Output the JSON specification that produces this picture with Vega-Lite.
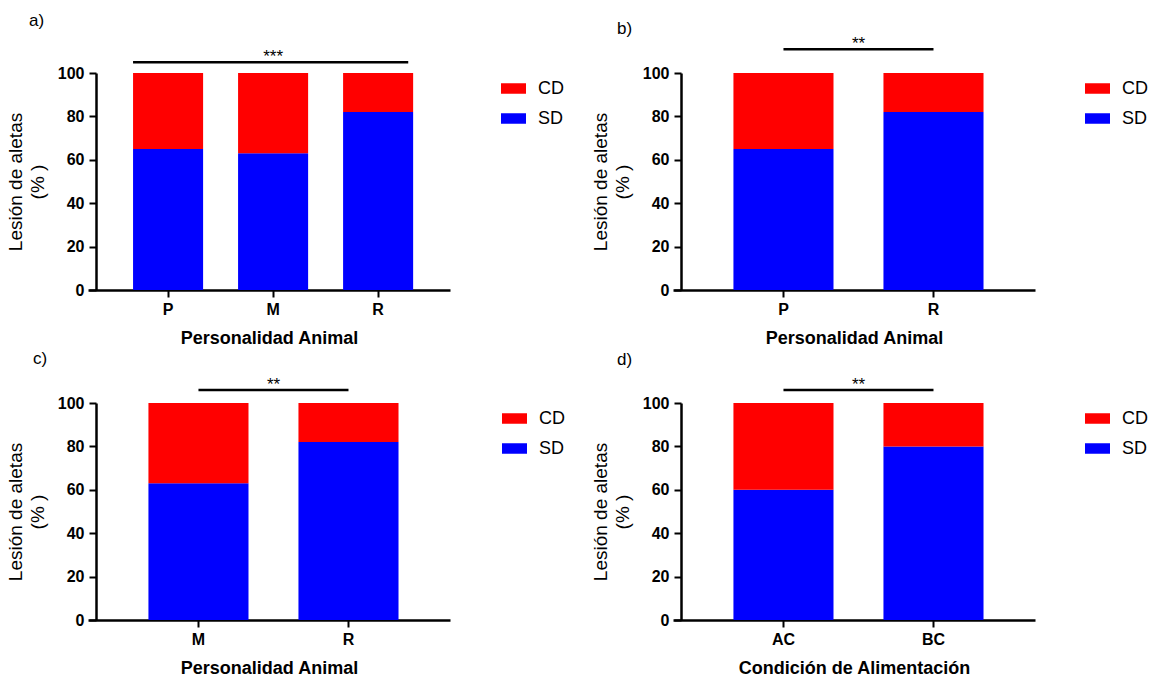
{
  "$schema": "https://vega.github.io/schema/vega-lite/v6.json",
  "background": "white",
  "padding": {"left": 6, "top": 12, "right": 0, "bottom": 0},
  "config": {
    "font": "Liberation Sans",
    "view": {"stroke": null},
    "axis": {
      "domainColor": "black", "domainWidth": 2.5, "tickColor": "black", "tickWidth": 2, "tickSize": 7,
      "labelFont": "Liberation Sans", "labelFontWeight": "bold", "labelFontSize": 16, "labelColor": "black",
      "titleFont": "Liberation Sans", "titleColor": "black", "titleFontSize": 18, "grid": false, "zindex": 1
    },
    "axisX": {"labelPadding": 4, "titleFontWeight": "bold", "titlePadding": 12, "labelAngle": 0},
    "axisY": {"labelPadding": 5, "titleFontWeight": "normal", "titleFontSize": 19, "titlePadding": 10, "offset": -8, "titleLineHeight": 22},
    "legend": {
      "orient": "none", "title": null, "symbolType": "M-1,-0.42H1V0.42H-1Z", "symbolSize": 625,
      "symbolStrokeWidth": 0, "labelFont": "Liberation Sans", "labelFontSize": 18, "labelColor": "black",
      "labelOffset": 12, "rowPadding": 8, "padding": 0
    },
    "title": {"anchor": "start", "frame": "group", "fontSize": 17, "fontWeight": "normal", "color": "black", "font": "Liberation Sans"}
  },
  "datasets": {
    "a": [
      {"cat": "P", "group": "SD", "value": 65}, {"cat": "P", "group": "CD", "value": 35},
      {"cat": "M", "group": "SD", "value": 63}, {"cat": "M", "group": "CD", "value": 37},
      {"cat": "R", "group": "SD", "value": 82}, {"cat": "R", "group": "CD", "value": 18}
    ],
    "a_sig": [{"from": "P", "to": "R", "mid": "M", "y": 105, "label": "***"}],
    "b": [
      {"cat": "P", "group": "SD", "value": 65}, {"cat": "P", "group": "CD", "value": 35},
      {"cat": "R", "group": "SD", "value": 82}, {"cat": "R", "group": "CD", "value": 18}
    ],
    "b_sig": [{"from": "P", "to": "R", "mid": "P", "y": 111, "label": "**"}],
    "c": [
      {"cat": "M", "group": "SD", "value": 63}, {"cat": "M", "group": "CD", "value": 37},
      {"cat": "R", "group": "SD", "value": 82}, {"cat": "R", "group": "CD", "value": 18}
    ],
    "c_sig": [{"from": "M", "to": "R", "mid": "M", "y": 106, "label": "**"}],
    "d": [
      {"cat": "AC", "group": "SD", "value": 60}, {"cat": "AC", "group": "CD", "value": 40},
      {"cat": "BC", "group": "SD", "value": 80}, {"cat": "BC", "group": "CD", "value": 20}
    ],
    "d_sig": [{"from": "AC", "to": "BC", "mid": "AC", "y": 106, "label": "**"}]
  },
  "columns": 2,
  "bounds": "flush",
  "spacing": {"row": 113, "column": 223},
  "resolve": {"scale": {"color": "independent"}, "legend": {"color": "independent"}},
  "concat": [
    {
      "width": 362, "height": 217,
      "title": {"text": "a)", "dx": -59, "offset": 18},
      "layer": [
        {
          "data": {"name": "a"},
          "mark": {"type": "bar"},
          "encoding": {
            "x": {"field": "cat", "type": "nominal", "title": "Personalidad Animal", "scale": {"domain": ["P", "M", "R"], "paddingInner": 0.333, "paddingOuter": 0.39, "align": 0.55}},
            "y": {"field": "value", "type": "quantitative", "stack": "zero", "title": ["Lesión de aletas", "(% )"], "scale": {"domain": [0, 100], "nice": false}, "axis": {"values": [0, 20, 40, 60, 80, 100]}},
            "color": {"field": "group", "type": "nominal", "scale": {"domain": ["CD", "SD"], "range": ["#ff0000", "#0000ff"]}, "legend": {"legendX": 413, "legendY": 3}},
            "order": {"field": "group", "sort": "descending"}
          }
        },
        {
          "data": {"name": "a_sig"},
          "mark": {"type": "rule", "strokeWidth": 2.5, "color": "black"},
          "encoding": {
            "x": {"field": "from", "type": "nominal", "bandPosition": 0, "title": "Personalidad Animal", "scale": {"domain": ["P", "M", "R"], "paddingInner": 0.333, "paddingOuter": 0.39, "align": 0.55}},
            "x2": {"field": "to", "bandPosition": 0.93},
            "y": {"field": "y", "type": "quantitative", "title": ["Lesión de aletas", "(% )"], "scale": {"domain": [0, 100], "nice": false}}
          }
        },
        {
          "data": {"name": "a_sig"},
          "mark": {"type": "text", "fontSize": 17, "baseline": "alphabetic", "color": "black"},
          "encoding": {
            "x": {"field": "mid", "type": "nominal", "bandPosition": 0.5, "title": "Personalidad Animal", "scale": {"domain": ["P", "M", "R"], "paddingInner": 0.333, "paddingOuter": 0.39, "align": 0.55}},
            "y": {"field": "y", "type": "quantitative", "title": ["Lesión de aletas", "(% )"], "scale": {"domain": [0, 100], "nice": false}},
            "text": {"field": "label"}
          }
        }
      ]
    },
    {
      "width": 362, "height": 217,
      "title": {"text": "b)", "dx": -56, "offset": -3},
      "layer": [
        {
          "data": {"name": "b"},
          "mark": {"type": "bar"},
          "encoding": {
            "x": {"field": "cat", "type": "nominal", "title": "Personalidad Animal", "scale": {"domain": ["P", "R"], "paddingInner": 0.333, "paddingOuter": 0.373, "align": 0.54}},
            "y": {"field": "value", "type": "quantitative", "stack": "zero", "title": ["Lesión de aletas", "(% )"], "scale": {"domain": [0, 100], "nice": false}, "axis": {"values": [0, 20, 40, 60, 80, 100]}},
            "color": {"field": "group", "type": "nominal", "scale": {"domain": ["CD", "SD"], "range": ["#ff0000", "#0000ff"]}, "legend": {"legendX": 412, "legendY": 3}},
            "order": {"field": "group", "sort": "descending"}
          }
        },
        {
          "data": {"name": "b_sig"},
          "mark": {"type": "rule", "strokeWidth": 2.5, "color": "black"},
          "encoding": {
            "x": {"field": "from", "type": "nominal", "bandPosition": 0.5, "title": "Personalidad Animal", "scale": {"domain": ["P", "R"], "paddingInner": 0.333, "paddingOuter": 0.373, "align": 0.54}},
            "x2": {"field": "to", "bandPosition": 0.5},
            "y": {"field": "y", "type": "quantitative", "title": ["Lesión de aletas", "(% )"], "scale": {"domain": [0, 100], "nice": false}}
          }
        },
        {
          "data": {"name": "b_sig"},
          "mark": {"type": "text", "fontSize": 17, "baseline": "alphabetic", "color": "black"},
          "encoding": {
            "x": {"field": "mid", "type": "nominal", "bandPosition": 1.25, "title": "Personalidad Animal", "scale": {"domain": ["P", "R"], "paddingInner": 0.333, "paddingOuter": 0.373, "align": 0.54}},
            "y": {"field": "y", "type": "quantitative", "title": ["Lesión de aletas", "(% )"], "scale": {"domain": [0, 100], "nice": false}},
            "text": {"field": "label"}
          }
        }
      ]
    },
    {
      "width": 362, "height": 217,
      "title": {"text": "c)", "dx": -55, "offset": 8},
      "layer": [
        {
          "data": {"name": "c"},
          "mark": {"type": "bar"},
          "encoding": {
            "x": {"field": "cat", "type": "nominal", "title": "Personalidad Animal", "scale": {"domain": ["M", "R"], "paddingInner": 0.333, "paddingOuter": 0.373, "align": 0.54}},
            "y": {"field": "value", "type": "quantitative", "stack": "zero", "title": ["Lesión de aletas", "(% )"], "scale": {"domain": [0, 100], "nice": false}, "axis": {"values": [0, 20, 40, 60, 80, 100]}},
            "color": {"field": "group", "type": "nominal", "scale": {"domain": ["CD", "SD"], "range": ["#ff0000", "#0000ff"]}, "legend": {"legendX": 414, "legendY": 3}},
            "order": {"field": "group", "sort": "descending"}
          }
        },
        {
          "data": {"name": "c_sig"},
          "mark": {"type": "rule", "strokeWidth": 2.5, "color": "black"},
          "encoding": {
            "x": {"field": "from", "type": "nominal", "bandPosition": 0.5, "title": "Personalidad Animal", "scale": {"domain": ["M", "R"], "paddingInner": 0.333, "paddingOuter": 0.373, "align": 0.54}},
            "x2": {"field": "to", "bandPosition": 0.5},
            "y": {"field": "y", "type": "quantitative", "title": ["Lesión de aletas", "(% )"], "scale": {"domain": [0, 100], "nice": false}}
          }
        },
        {
          "data": {"name": "c_sig"},
          "mark": {"type": "text", "fontSize": 17, "baseline": "alphabetic", "color": "black"},
          "encoding": {
            "x": {"field": "mid", "type": "nominal", "bandPosition": 1.25, "title": "Personalidad Animal", "scale": {"domain": ["M", "R"], "paddingInner": 0.333, "paddingOuter": 0.373, "align": 0.54}},
            "y": {"field": "y", "type": "quantitative", "title": ["Lesión de aletas", "(% )"], "scale": {"domain": [0, 100], "nice": false}},
            "text": {"field": "label"}
          }
        }
      ]
    },
    {
      "width": 362, "height": 217,
      "title": {"text": "d)", "dx": -56, "offset": 7},
      "layer": [
        {
          "data": {"name": "d"},
          "mark": {"type": "bar"},
          "encoding": {
            "x": {"field": "cat", "type": "nominal", "title": "Condición de Alimentación", "scale": {"domain": ["AC", "BC"], "paddingInner": 0.333, "paddingOuter": 0.373, "align": 0.54}},
            "y": {"field": "value", "type": "quantitative", "stack": "zero", "title": ["Lesión de aletas", "(% )"], "scale": {"domain": [0, 100], "nice": false}, "axis": {"values": [0, 20, 40, 60, 80, 100]}},
            "color": {"field": "group", "type": "nominal", "scale": {"domain": ["CD", "SD"], "range": ["#ff0000", "#0000ff"]}, "legend": {"legendX": 412, "legendY": 3}},
            "order": {"field": "group", "sort": "descending"}
          }
        },
        {
          "data": {"name": "d_sig"},
          "mark": {"type": "rule", "strokeWidth": 2.5, "color": "black"},
          "encoding": {
            "x": {"field": "from", "type": "nominal", "bandPosition": 0.5, "title": "Condición de Alimentación", "scale": {"domain": ["AC", "BC"], "paddingInner": 0.333, "paddingOuter": 0.373, "align": 0.54}},
            "x2": {"field": "to", "bandPosition": 0.5},
            "y": {"field": "y", "type": "quantitative", "title": ["Lesión de aletas", "(% )"], "scale": {"domain": [0, 100], "nice": false}}
          }
        },
        {
          "data": {"name": "d_sig"},
          "mark": {"type": "text", "fontSize": 17, "baseline": "alphabetic", "color": "black"},
          "encoding": {
            "x": {"field": "mid", "type": "nominal", "bandPosition": 1.25, "title": "Condición de Alimentación", "scale": {"domain": ["AC", "BC"], "paddingInner": 0.333, "paddingOuter": 0.373, "align": 0.54}},
            "y": {"field": "y", "type": "quantitative", "title": ["Lesión de aletas", "(% )"], "scale": {"domain": [0, 100], "nice": false}},
            "text": {"field": "label"}
          }
        }
      ]
    }
  ]
}
